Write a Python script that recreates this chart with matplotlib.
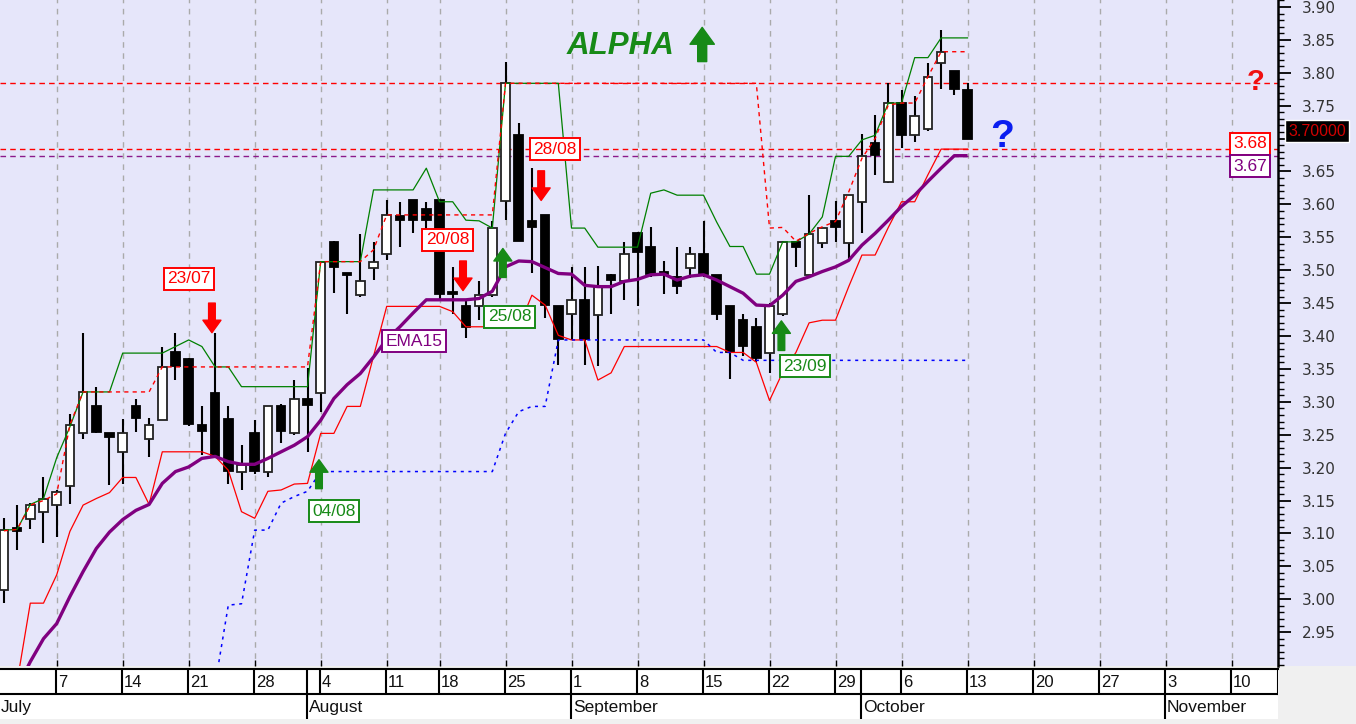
import numpy as np
import matplotlib.pyplot as plt
from matplotlib.ticker import MultipleLocator, FixedLocator, FuncFormatter
from matplotlib.patches import Rectangle

plt.rcParams['font.family'] = ['Liberation Sans', 'DejaVu Sans']

# ---- daily OHLC, one row per trading day (1 July .. 13 October) ----
opens = [3.014, 3.108, 3.122, 3.133, 3.143, 3.172, 3.252, 3.294, 3.253, 3.223,
         3.294, 3.243, 3.273, 3.375, 3.365, 3.265, 3.314, 3.274, 3.193, 3.253,
         3.193, 3.294, 3.253, 3.304, 3.314, 3.543, 3.495, 3.462, 3.504, 3.524,
         3.582, 3.606, 3.593, 3.606, 3.466, 3.445, 3.446, 3.463, 3.605, 3.706,
         3.575, 3.584, 3.445, 3.433, 3.454, 3.432, 3.493, 3.484, 3.556, 3.535,
         3.496, 3.489, 3.504, 3.525, 3.493, 3.446, 3.424, 3.414, 3.374, 3.433,
         3.543, 3.492, 3.542, 3.575, 3.542, 3.604, 3.694, 3.634, 3.754, 3.705,
         3.714, 3.815, 3.803, 3.774]
highs = [3.123, 3.143, 3.146, 3.185, 3.166, 3.282, 3.405, 3.323, 3.253, 3.274,
         3.304, 3.275, 3.384, 3.404, 3.367, 3.294, 3.405, 3.294, 3.234, 3.273,
         3.294, 3.296, 3.333, 3.351, 3.513, 3.545, 3.496, 3.555, 3.543, 3.606,
         3.604, 3.606, 3.604, 3.606, 3.505, 3.456, 3.484, 3.575, 3.816, 3.723,
         3.655, 3.584, 3.445, 3.505, 3.505, 3.506, 3.494, 3.543, 3.558, 3.565,
         3.514, 3.535, 3.535, 3.575, 3.493, 3.446, 3.434, 3.428, 3.450, 3.545,
         3.543, 3.614, 3.564, 3.605, 3.614, 3.707, 3.736, 3.784, 3.774, 3.765,
         3.815, 3.865, 3.803, 3.784]
lows = [2.994, 3.075, 3.106, 3.086, 3.095, 3.145, 3.244, 3.252, 3.174, 3.175,
        3.254, 3.216, 3.273, 3.333, 3.263, 3.219, 3.215, 3.175, 3.166, 3.190,
        3.186, 3.237, 3.250, 3.224, 3.285, 3.465, 3.434, 3.460, 3.485, 3.515,
        3.536, 3.556, 3.556, 3.455, 3.434, 3.397, 3.424, 3.460, 3.576, 3.545,
        3.495, 3.427, 3.356, 3.394, 3.356, 3.355, 3.434, 3.455, 3.446, 3.490,
        3.464, 3.464, 3.488, 3.490, 3.424, 3.334, 3.369, 3.360, 3.344, 3.430,
        3.505, 3.490, 3.534, 3.543, 3.515, 3.556, 3.645, 3.632, 3.685, 3.695,
        3.712, 3.776, 3.766, 3.700]
closes = [3.105, 3.104, 3.143, 3.152, 3.163, 3.265, 3.315, 3.254, 3.246, 3.253,
          3.275, 3.264, 3.353, 3.355, 3.266, 3.255, 3.217, 3.195, 3.204, 3.195,
          3.294, 3.255, 3.304, 3.295, 3.513, 3.505, 3.493, 3.483, 3.513, 3.584,
          3.576, 3.576, 3.576, 3.464, 3.464, 3.413, 3.463, 3.564, 3.784, 3.545,
          3.565, 3.447, 3.395, 3.454, 3.395, 3.474, 3.485, 3.525, 3.527, 3.494,
          3.494, 3.476, 3.525, 3.494, 3.434, 3.375, 3.385, 3.366, 3.445, 3.543,
          3.535, 3.555, 3.564, 3.565, 3.614, 3.674, 3.675, 3.754, 3.706, 3.735,
          3.794, 3.832, 3.775, 3.700]

# ---- indicator lines ----
upper_band = [3.105, 3.106, 3.144, 3.153, 3.215, 3.262, 3.315, 3.315, 3.315, 3.374,
              3.374, 3.374, 3.374, 3.384, 3.394, 3.384, 3.353, 3.353, 3.323, 3.323,
              3.323, 3.323, 3.323, 3.323, 3.513, 3.513, 3.513, 3.513, 3.622, 3.622,
              3.622, 3.622, 3.655, 3.604, 3.604, 3.576, 3.575, 3.564, 3.784, 3.784,
              3.784, 3.784, 3.784, 3.564, 3.564, 3.535, 3.535, 3.535, 3.535, 3.617,
              3.622, 3.614, 3.614, 3.614, 3.573, 3.536, 3.536, 3.494, 3.494, 3.543,
              3.543, 3.555, 3.581, 3.673, 3.673, 3.698, 3.705, 3.754, 3.754, 3.823,
              3.823, 3.853, 3.853, 3.853]
lower_band = [2.870, 2.874, 2.994, 2.994, 3.037, 3.103, 3.143, 3.153, 3.162, 3.185,
              3.185, 3.144, 3.224, 3.224, 3.224, 3.224, 3.217, 3.196, 3.133, 3.123,
              3.164, 3.166, 3.175, 3.176, 3.252, 3.252, 3.293, 3.293, 3.369, 3.445,
              3.445, 3.445, 3.445, 3.445, 3.437, 3.414, 3.414, 3.414, 3.414, 3.414,
              3.462, 3.447, 3.401, 3.394, 3.394, 3.333, 3.344, 3.384, 3.384, 3.384,
              3.384, 3.384, 3.384, 3.384, 3.384, 3.375, 3.375, 3.360, 3.302, 3.345,
              3.375, 3.420, 3.424, 3.424, 3.475, 3.523, 3.523, 3.565, 3.604, 3.604,
              3.645, 3.684, 3.684, 3.684]
trail_high = [3.104, 3.106, 3.143, 3.150, 3.160, 3.265, 3.315, 3.315, 3.315, 3.315,
              3.315, 3.315, 3.353, 3.353, 3.353, 3.353, 3.353, 3.353, 3.353, 3.353,
              3.353, 3.353, 3.353, 3.353, 3.513, 3.513, 3.513, 3.513, 3.531, 3.584,
              3.584, 3.584, 3.584, 3.584, 3.584, 3.584, 3.584, 3.584, 3.784, 3.784,
              3.784, 3.784, 3.784, 3.784, 3.784, 3.784, 3.784, 3.784, 3.784, 3.784,
              3.784, 3.784, 3.784, 3.784, 3.784, 3.784, 3.784, 3.784, 3.564, 3.565,
              3.544, 3.556, 3.566, 3.574, 3.619, 3.670, 3.700, 3.751, 3.754, 3.754,
              3.794, 3.832, 3.832, 3.832]
nan = np.nan
trail_low = [nan] * 16 + [
    2.870, 2.991, 2.993, 3.105, 3.105, 3.146, 3.156, 3.164, 3.194, 3.194,
    3.194, 3.194, 3.194, 3.194, 3.194, 3.194, 3.194, 3.194, 3.194, 3.194,
    3.194, 3.194, 3.252, 3.285, 3.293, 3.293, 3.394, 3.394, 3.394, 3.394,
    3.394, 3.394, 3.394, 3.394, 3.394, 3.394, 3.394, 3.394, 3.375, 3.375,
    3.363, 3.363, 3.363, 3.363, 3.363, 3.363, 3.363, 3.363, 3.363, 3.363,
    3.363, 3.363, 3.363, 3.363, 3.363, 3.363, 3.363, 3.363]
ema15 = [2.830, 2.865, 2.905, 2.940, 2.963, 3.004, 3.042, 3.077, 3.102, 3.121,
         3.135, 3.144, 3.176, 3.194, 3.201, 3.214, 3.217, 3.209, 3.205, 3.205,
         3.214, 3.224, 3.234, 3.247, 3.272, 3.305, 3.326, 3.343, 3.368, 3.395,
         3.414, 3.435, 3.455, 3.455, 3.455, 3.455, 3.457, 3.468, 3.505, 3.514,
         3.513, 3.504, 3.495, 3.494, 3.477, 3.475, 3.475, 3.483, 3.486, 3.493,
         3.494, 3.485, 3.491, 3.493, 3.485, 3.475, 3.465, 3.447, 3.446, 3.462,
         3.483, 3.490, 3.498, 3.505, 3.515, 3.538, 3.556, 3.576, 3.597, 3.614,
         3.635, 3.655, 3.674, 3.674]

# horizontal levels
resistance = 3.784
level_red = 3.684
level_ema = 3.673
last_price = 3.70

# price axis labels
price_ticks = [2.95, 3.00, 3.05, 3.10, 3.15, 3.20, 3.25, 3.30, 3.35, 3.40,
               3.45, 3.50, 3.55, 3.60, 3.65, 3.70, 3.75, 3.80, 3.85, 3.90]

# date axis (trading-day index of each Monday / month start)
monday_idx = [4, 9, 14, 19, 24, 29, 33, 38, 43, 48, 53, 58, 63, 68, 73, 78, 83, 88, 93]
day_labels = ['7', '14', '21', '28', '4', '11', '18', '25', '1', '8', '15', '22',
              '29', '6', '13', '20', '27', '3', '10']
month_idx = [-0.3, 23, 43, 65, 88]
month_labels = ['July', 'August', 'September', 'October', 'November']

# ---------------------------------------------------------------------------
W, H = 1356, 724
BG = '#E6E6FA'
fig = plt.figure(figsize=(W / 100, H / 100), dpi=100)
fig.patch.set_facecolor(BG)


def px_box(x0, y0, x1, y1):
    return [x0 / W, 1 - y1 / H, (x1 - x0) / W, (y1 - y0) / H]


# light grey strip under the plot
fig.patches.append(Rectangle((0, 0), 1, 1 - 666 / H, transform=fig.transFigure,
                             facecolor='#F0F0F0', edgecolor='none', zorder=-5))

ax = fig.add_axes(px_box(0, 0, 1278, 666))
ax.set_facecolor(BG)
xmin, xmax = -0.295, 96.52
ax.set_xlim(xmin, xmax)
ax.set_ylim(2.8985, 3.9106)

n = len(closes)
x = np.arange(n)

# week grid
ax.vlines(monday_idx, 2.8, 4.0, colors='#AAAAAA', linestyles=(0, (4, 4)), lw=1, zorder=1)

# horizontal levels
ax.axhline(resistance, color='red', ls=(0, (4, 3)), lw=1, zorder=2)
ax.axhline(level_red, color='red', ls=(0, (4, 3)), lw=1, zorder=2)
ax.axhline(level_ema, color='#8B1A8B', ls=(0, (4, 3)), lw=1, zorder=2)

# candles
o = np.array(opens); c = np.array(closes)
ax.vlines(x, lows, highs, colors='black', lw=1.5, zorder=3)
up = c >= o
body_h = np.maximum(np.abs(c - o), 0.003)
body_b = np.minimum(o, c)
ax.bar(x[up], body_h[up], bottom=body_b[up], width=0.66, color='white',
       edgecolor='#222222', lw=1.3, zorder=4)
ax.bar(x[~up], body_h[~up], bottom=body_b[~up], width=0.66, color='black',
       edgecolor='black', lw=1.3, zorder=4)

# indicator lines
ax.plot(x, upper_band, color='#008000', lw=0.9, zorder=5)
ax.plot(x, lower_band, color='#FF0000', lw=0.9, zorder=5)
ax.plot(x, trail_high, color='#FF0000', lw=1.0, ls=(0, (3, 3)), zorder=5)
ax.plot(x, trail_low, color='#0000FF', lw=1.1, ls=(0, (2, 3)), zorder=5)
ax.plot(x, ema15, color='#800080', lw=2.4, zorder=6, solid_capstyle='butt')


def tag(xd, yd, s, col, size=12.5):
    ax.text(xd, yd, s, color=col, fontsize=size, ha='center', va='center', zorder=8,
            bbox=dict(boxstyle='square,pad=0.2', fc='white', ec=col, lw=1.4))


def arrow(xd, y_tail, y_head, col, scale=20):
    ax.annotate('', xy=(xd, y_head), xytext=(xd, y_tail), zorder=8,
                arrowprops=dict(arrowstyle='simple,head_length=0.45,head_width=0.65,tail_width=0.24',
                                color=col, mutation_scale=scale, shrinkA=0, shrinkB=0))


RED = '#FF0000'
GRN = '#178A17'
tag(14.0, 3.487, '23/07', RED)
arrow(15.76, 3.450, 3.405, RED)
tag(25.0, 3.134, '04/08', GRN)
arrow(23.87, 3.168, 3.212, GRN)
tag(31.1, 3.392, 'EMA15', '#800080')
tag(33.6, 3.546, '20/08', RED)
arrow(34.78, 3.514, 3.469, RED)
tag(38.3, 3.429, '25/08', GRN)
arrow(37.8, 3.489, 3.533, GRN)
tag(41.75, 3.684, '28/08', RED)
arrow(40.7, 3.651, 3.606, RED)
tag(60.7, 3.354, '23/09', GRN)
arrow(58.9, 3.378, 3.423, GRN)

ax.text(46.75, 3.841, 'ALPHA', color=GRN, fontsize=22.5, fontweight='bold',
        fontstyle='italic', ha='center', va='center', zorder=8)
arrow(52.9, 3.817, 3.869, GRN, scale=27)
ax.text(94.8, 3.786, '?', color='#F01010', fontsize=21, fontweight='bold',
        ha='center', va='center', zorder=8)
ax.text(75.6, 3.703, '?', color='#0A1EF0', fontsize=28, fontweight='bold',
        ha='center', va='center', zorder=8)
tag(94.4, 3.692, '3.68', RED, size=12.5)
tag(94.4, 3.658, '3.67', '#800080', size=12.5)


# right price axis; the 3.70 label sits under the last-price box
def price_fmt(v, pos):
    return '' if abs(v - last_price) < 1e-6 else f'{v:.2f}'


ax.yaxis.tick_right()
ax.yaxis.set_major_locator(FixedLocator(price_ticks))
ax.yaxis.set_minor_locator(MultipleLocator(0.01))
ax.yaxis.set_major_formatter(FuncFormatter(price_fmt))
ax.tick_params(axis='y', which='major', direction='out', length=9, width=1.3,
               labelsize=11, labelcolor='#333333', pad=8)
ax.tick_params(axis='y', which='minor', direction='out', length=4.5, width=1)
for lab in ax.get_yticklabels():
    lab.set_fontfamily('DejaVu Sans')
ax.set_xticks(monday_idx)
ax.tick_params(axis='x', direction='in', length=4, width=1, labelbottom=False)
for s in ('left', 'top', 'bottom'):
    ax.spines[s].set_visible(False)
ax.spines['right'].set_linewidth(1.8)

fig.text(1317 / W, 1 - 131 / H, f'{last_price:.5f}', color='#D00000', fontsize=11.5,
         ha='center', va='center', zorder=20,
         bbox=dict(boxstyle='square,pad=0.22', fc='black', ec='white', lw=1))

# date band
bx = fig.add_axes(px_box(0, 669, 1278, 719))
bx.set_facecolor('white')
bx.set_xlim(xmin, xmax)
bx.set_ylim(0, 2)
bx.set_xticks([])
bx.set_yticks([])
for s in ('left', 'bottom', 'right'):
    bx.spines[s].set_visible(False)
bx.spines['top'].set_linewidth(1.5)
bx.axhline(1, color='black', lw=1.5)
bx.axvline(xmax - 0.02, ymin=0.5, ymax=1, color='black', lw=1.5)
edges_top = sorted(set(monday_idx + month_idx[1:]))
bx.vlines([e - 0.07 for e in edges_top], 1, 2, colors='black', lw=1.5)
bx.vlines([e - 0.07 for e in month_idx[1:]], 0, 1, colors='black', lw=1.5)
for e, s in zip(monday_idx, day_labels):
    bx.text(e + 0.1, 1.47, s, fontsize=12, ha='left', va='center', color='#111111')
for e, s in zip(month_idx, month_labels):
    bx.text(e + 0.1, 0.47, s, fontsize=12.5, ha='left', va='center', color='#111111')

fig.savefig('out.png', dpi=100, facecolor=fig.get_facecolor())
